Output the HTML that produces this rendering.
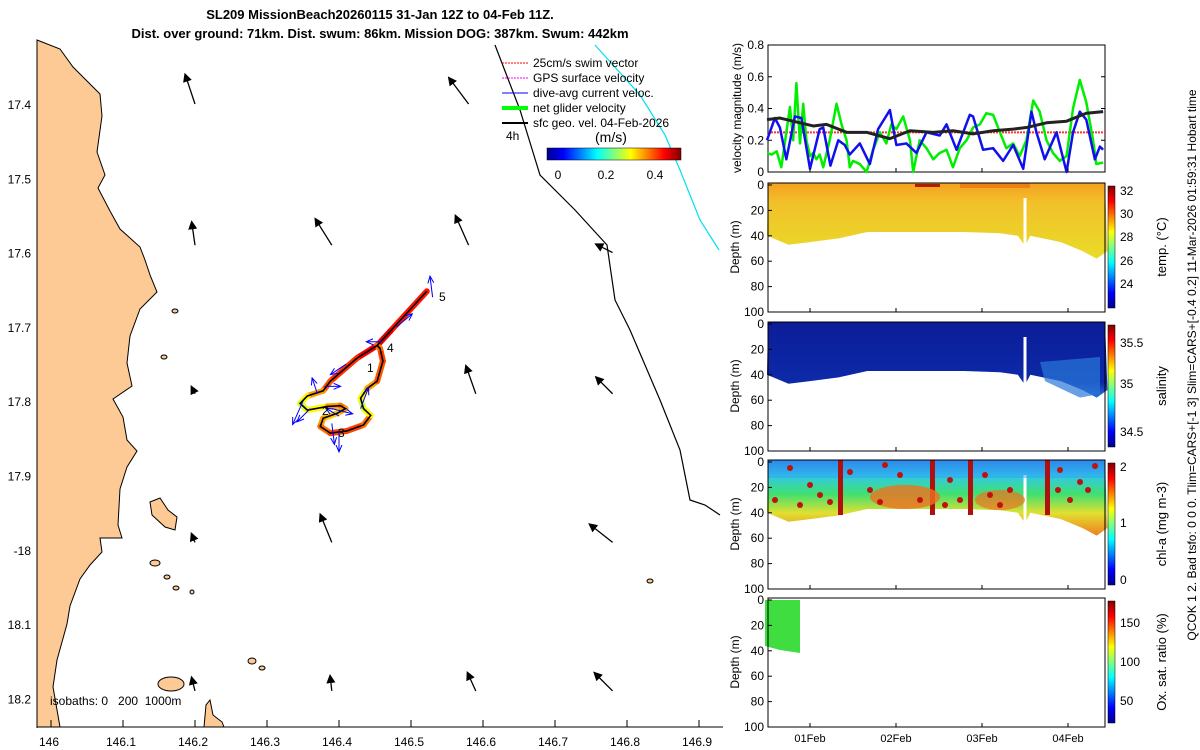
<!DOCTYPE html>
<html><head><meta charset="utf-8"><style>
body{margin:0;background:#fff;}
svg{display:block;font-family:"Liberation Sans",sans-serif;}
</style></head><body>
<svg id="c" width="1200" height="750" viewBox="0 0 1200 750" xmlns="http://www.w3.org/2000/svg">
<defs>
<linearGradient id="jetH" x1="0" x2="1" y1="0" y2="0">
<stop offset="0" stop-color="#00008f"/><stop offset="0.125" stop-color="#0000ff"/><stop offset="0.375" stop-color="#00ffff"/><stop offset="0.625" stop-color="#ffff00"/><stop offset="0.875" stop-color="#ff0000"/><stop offset="1" stop-color="#800000"/></linearGradient>
<linearGradient id="jetV" x1="0" x2="0" y1="1" y2="0">
<stop offset="0" stop-color="#00008f"/><stop offset="0.125" stop-color="#0000ff"/><stop offset="0.375" stop-color="#00ffff"/><stop offset="0.625" stop-color="#ffff00"/><stop offset="0.875" stop-color="#ff0000"/><stop offset="1" stop-color="#800000"/></linearGradient>
<linearGradient id="tempG" x1="0" x2="0" y1="0" y2="1"><stop offset="0" stop-color="#f5a020"/><stop offset="0.25" stop-color="#f2c02a"/><stop offset="1" stop-color="#e8dc28"/></linearGradient>
<linearGradient id="salG" x1="0" x2="0" y1="0" y2="1"><stop offset="0" stop-color="#0c1c98"/><stop offset="0.8" stop-color="#0c2aa8"/><stop offset="1" stop-color="#2a70d8"/></linearGradient>
<linearGradient id="chlG" x1="0" x2="0" y1="0" y2="1"><stop offset="0" stop-color="#2a70e8"/><stop offset="0.2" stop-color="#30c8e8"/><stop offset="0.45" stop-color="#40e070"/><stop offset="0.7" stop-color="#e0e030"/><stop offset="1" stop-color="#f08020"/></linearGradient>
<marker id="ah" markerWidth="7" markerHeight="7" refX="5" refY="3.5" orient="auto"><path d="M0,0 L7,3.5 L0,7 Z" fill="#000"/></marker>
<marker id="ahb" markerWidth="8" markerHeight="8" refX="6" refY="4" orient="auto"><path d="M0,1 L7,4 L0,7" fill="none" stroke="#00f"/></marker>
</defs>

<text x="380" y="19" text-anchor="middle" font-size="13" font-weight="bold">SL209 MissionBeach20260115 31-Jan 12Z to 04-Feb 11Z.</text>
<text x="380" y="38" text-anchor="middle" font-size="13" font-weight="bold">Dist. over ground: 71km. Dist. swum: 86km. Mission DOG: 387km. Swum: 442km</text>

<g id="map">
<path fill="#fdc994" stroke="#000" stroke-width="1" d="M37,40 L60,49 L73,67 L100,94 L102,116 L97,152 L105,175 L98,188 L110,211 L120,229 L140,247 L145,260 L150,275 L157,292 L140,309 L130,336 L127,363 L132,386 L113,399 L123,417 L127,440 L137,451 L127,467 L120,489 L118,525 L122,538 L100,538 L102,552 L90,565 L80,579 L70,606 L67,624 L57,660 L53,687 L60,727 L37,727 Z"/>
<g fill="#fdc994" stroke="#000" stroke-width="1">
<path d="M150,502 L160,498 L168,510 L177,517 L175,530 L165,527 L152,515 Z"/>
<ellipse cx="171" cy="684" rx="13" ry="7"/><ellipse cx="155" cy="563" rx="5" ry="3"/><ellipse cx="167" cy="577" rx="3" ry="2"/><ellipse cx="176" cy="588" rx="3" ry="2"/><ellipse cx="192" cy="592" rx="2" ry="2"/><ellipse cx="175" cy="311" rx="3" ry="2"/><ellipse cx="164" cy="357" rx="3" ry="2"/><ellipse cx="252" cy="661" rx="4" ry="3"/><ellipse cx="262" cy="668" rx="3" ry="2"/><ellipse cx="650" cy="581" rx="3" ry="2"/>
<path d="M204,727 L206,705 L210,700 L213,715 L222,722 L224,727 Z"/>
</g>
<path d="M495,45 L520,110 L540,175 L575,210 L607,245 L615,300 L630,330 L660,400 L680,450 L690,500 L705,505 L720,515" fill="none" stroke="#000" stroke-width="1.2"/>
<path d="M595,45 L640,95 L665,135 L680,170 L700,220 L719,250" fill="none" stroke="#00e0f0" stroke-width="1.2"/>
<g id="sfcArrows"></g>
<g id="track"></g>
<line x1="37" y1="43" x2="37" y2="728" stroke="#000"/>
<line x1="37" y1="727" x2="723" y2="727" stroke="#000"/>
<g id="mapTicks" font-size="12"></g>
<text x="50" y="705" font-size="12">isobaths: 0 &#160; 200 &#160;1000m</text>
<g font-size="12">
<line x1="528" y1="63" x2="502" y2="63" stroke="#f00" stroke-dasharray="2,1"/><text x="533" y="67">25cm/s swim vector</text>
<line x1="528" y1="78" x2="502" y2="78" stroke="#f0f" stroke-dasharray="2,1"/><text x="533" y="82">GPS surface velocity</text>
<line x1="528" y1="93" x2="502" y2="93" stroke="#00f"/><text x="533" y="97">dive-avg current veloc.</text>
<line x1="528" y1="108" x2="502" y2="108" stroke="#0f0" stroke-width="4"/><text x="533" y="112">net glider velocity</text>
<line x1="528" y1="123" x2="502" y2="123" stroke="#000" stroke-width="2"/><text x="533" y="127">sfc geo. vel. 04-Feb-2026</text>
<text x="506" y="140" font-size="12">4h</text>
<text x="595" y="142" font-size="14">(m/s)</text>
<rect x="547" y="148" width="134" height="12" fill="url(#jetH)" stroke="#000" stroke-width="0.5"/>
<text x="558" y="179" text-anchor="middle">0</text><text x="606" y="179" text-anchor="middle">0.2</text><text x="655" y="179" text-anchor="middle">0.4</text>
</g>
</g>

<g id="right"></g>
<text transform="translate(1196,365) rotate(-90)" text-anchor="middle" font-size="12">QCOK 1  2. Bad tsfo: 0  0  0. Tlim=CARS+[-1 3] Slim=CARS+[-0.4 0.2] 11-Mar-2026 01:59:31 Hobart time</text>
</svg>
<script>
// ---------- data ----------
const greenHours=[0,1.3,2.7,4.0,5.4,6.4,7.3,8.2,9.2,10.1,11.0,12.0,12.9,13.8,14.7,15.7,17.5,19.4,20.8,22.2,23.1,24.0,25.9,27.8,29.6,31.5,33.3,34.7,36.1,38.0,39.9,40.8,42.6,44.5,46.4,48.2,50.1,51.9,53.8,55.7,57.5,59.4,61.2,63.1,65.0,66.8,68.7,70.5,72.4,74.3,76.1,78.0,79.8,81.7,83.6,85.4,87.3,89.1,91.0,91.9,93.8];
const greenSpeed=[.12,.11,.13,.03,.25,.41,.2,.56,.18,.43,.2,.1,.12,.08,.11,.03,.2,.43,.3,.2,.03,.07,.05,0,.14,.25,.18,.3,.27,.35,.2,0,.2,.15,.08,.12,.14,.03,.15,.2,.28,.3,.37,.36,.25,.15,.18,.1,.2,.45,.38,.2,.12,.07,.1,.4,.58,.44,.2,.05,.06];
const blueHours=[0,2.2,3.6,5.4,7.8,9.6,12.0,14.7,15.7,17.7,19.9,21.7,23.1,25.9,28.7,31.0,34.3,36.1,38.9,41.7,44.5,48.2,50.1,52.9,56.6,57.5,60.3,63.1,65.9,68.7,71.5,73.8,75.2,77.5,80.8,83.6,85.4,87.3,89.1,91.5,92.9,93.8];
const blueSpeed=[.2,.34,.28,.08,.35,.34,.02,.27,.28,.04,.2,.17,.11,.18,.05,.27,.39,.17,.18,.12,.25,.23,.3,.14,.36,.35,.14,.15,.07,.17,.02,.38,.25,.08,.25,0,.25,.38,.33,.08,.16,.14];
const blackHours=[0,3.6,9.2,12.9,16.6,22.2,27.8,34.3,39.9,46.4,51.9,57.5,63.1,68.7,72.4,78.0,83.6,89.1,93.8];
const blackSpeed=[.33,.34,.31,.29,.3,.25,.25,.21,.26,.25,.26,.24,.26,.27,.28,.31,.32,.37,.38];
const swimSpeed=0.25;
const velTicks=[0,0.2,0.4,0.6,0.8];
const dayTicks=["01Feb","02Feb","03Feb","04Feb"];
const dayTickHours=[12,36,60,84];
const depthTicks=[0,20,40,60,80,100];
const bottomHours=[0,6,12,20,28,38,55,65,70,72,73.5,82,88,92,95];
const bottomDepth=[40,47,45,42,37,37,37,38,40,48,40,45,52,58,52];
const mapLonTicks=["146","146.1","146.2","146.3","146.4","146.5","146.6","146.7","146.8","146.9"];
const mapLonVals=[146,146.1,146.2,146.3,146.4,146.5,146.6,146.7,146.8,146.9];
const mapLatTicks=["17.4","17.5","17.6","17.7","17.8","17.9","-18","18.1","18.2"];
const mapLatVals=[17.4,17.5,17.6,17.7,17.8,17.9,18.0,18.1,18.2];
const arrLon=[146.2,146.58,146.2,146.39,146.58,146.78,146.2,146.59,146.78,146.2,146.39,146.78,146.2,146.39,146.59,146.78];
const arrLat=[17.40,17.40,17.59,17.59,17.59,17.60,17.79,17.79,17.79,17.99,17.99,17.99,18.19,18.19,18.19,18.19];
const arrU=[-0.06,-0.12,-0.02,-0.1,-0.08,-0.1,-0.02,-0.06,-0.1,-0.02,-0.07,-0.14,-0.02,-0.01,-0.05,-0.11];
const arrV=[0.18,0.16,0.14,0.16,0.18,0.05,0.04,0.17,0.1,0.05,0.17,0.11,0.08,0.09,0.11,0.11];
const trackLon=[146.522,146.471,146.453,146.425,146.388,146.378,146.356,146.346,146.356,146.384,146.402,146.409,146.398,146.378,146.374,146.388,146.411,146.434,146.444,146.434,146.430,146.439,146.453,146.461,146.457,146.453];
const trackLat=[17.652,17.706,17.725,17.742,17.773,17.786,17.793,17.803,17.812,17.807,17.806,17.810,17.816,17.823,17.834,17.843,17.840,17.832,17.819,17.810,17.796,17.783,17.773,17.746,17.729,17.725];
const trackSpeed=[.45,.5,.48,.42,.38,.3,.2,.15,.2,.3,.35,.3,.25,.3,.35,.4,.4,.35,.2,.15,.2,.3,.38,.4,.35,.3];
const blueArrLon=[146.53,146.48,146.46,146.41,146.38,146.37,146.35,146.36,146.39,146.4,146.43,146.39,146.4];
const blueArrLat=[17.66,17.70,17.72,17.75,17.78,17.79,17.80,17.81,17.81,17.82,17.81,17.83,17.84];
const blueArrU=[-0.01,0.06,-0.06,-0.06,0.06,-0.02,-0.04,-0.05,0.08,-0.05,0.03,0.01,0.0];
const blueArrV=[0.08,0.05,0.0,-0.04,0.0,0.06,-0.09,-0.05,-0.02,0.03,0.08,-0.08,-0.08];

// ---------- helpers ----------
const NS="http://www.w3.org/2000/svg";
function mk(tag,attrs,parent){const e=document.createElementNS(NS,tag);for(const k in attrs)e.setAttribute(k,attrs[k]);parent.appendChild(e);return e;}
const lonX=l=>51+(l-146)*720;
const latY=l=>104+(l-17.4)*743;
function jet(v){v=Math.max(0,Math.min(1,v));const r=Math.min(4*v-1.5,-4*v+4.5),g=Math.min(4*v-0.5,-4*v+3.5),b=Math.min(4*v+0.5,-4*v+2.5);const c=x=>Math.round(255*Math.max(0,Math.min(1,x)));return `rgb(${c(r)},${c(g)},${c(b)})`;}

// ---------- map ticks ----------
const mt=document.getElementById('mapTicks');
mapLonVals.forEach((v,i)=>{const x=lonX(v);
 const t=mk('line',{x1:x,y1:727,x2:x,y2:720,stroke:'#000'},mt);
 
 
 const tx=mk('text',{x:x-2,y:746,'text-anchor':'middle'},mt);tx.textContent=mapLonTicks[i];
 
 });
mapLatVals.forEach((v,i)=>{const y=latY(v);
 const tx=mk('text',{x:31,y:y+5,'text-anchor':'end'},mt);tx.textContent=mapLatTicks[i];
 
 });

const sa=document.getElementById('sfcArrows');
for(let i=0;i<arrLon.length;i++){const x=lonX(arrLon[i]),y=latY(arrLat[i]);const s=160;
 const a=mk('line',{x1:x,y1:y,x2:x+arrU[i]*s,y2:y-arrV[i]*s,stroke:'#000','stroke-width':1.3,'marker-end':'url(#ah)'},sa);
 
 }

const tr=document.getElementById('track');
for(let i=0;i<trackLon.length-1;i++){
 const s=mk('line',{x1:lonX(trackLon[i]),y1:latY(trackLat[i]),x2:lonX(trackLon[i+1]),y2:latY(trackLat[i+1]),stroke:jet(0.45+trackSpeed[i]*0.9),'stroke-width':6,'stroke-linecap':'round'},tr);
 
 }
const tp=mk('polyline',{points:trackLon.map((l,i)=>lonX(l)+','+latY(trackLat[i])).join(' '),fill:'none',stroke:'#000','stroke-width':1.6},tr);


for(let i=0;i<blueArrLon.length;i++){const x=lonX(blueArrLon[i]),y=latY(blueArrLat[i]);
 const a=mk('line',{x1:x,y1:y,x2:x+blueArrU[i]*250,y2:y-blueArrV[i]*250,stroke:'#00f','stroke-width':1,'marker-end':'url(#ahb)'},tr);
 
 }
[["1",367,372],["2",322,415],["3",338,437],["4",387,352],["5",439,301]].forEach(d=>{const t=mk('text',{x:d[1],y:d[2],'font-size':12},tr);t.textContent=d[0];
 
 });

// ---------- right panels ----------
const R=document.getElementById('right');
const X0=768,X1=1105;
const hx=h=>767+h*86/24;
const vT=45,vB=172;const vy=v=>vB-v/0.8*(vB-vT);
const vp=mk('g',{},R);
mk('rect',{x:X0,y:vT,width:X1-X0,height:vB-vT,fill:'#fff',stroke:'#000'},vp);
velTicks.forEach(v=>{const t=mk('text',{x:764,y:vy(v)+4,'text-anchor':'end','font-size':12},vp);t.textContent=v===0?'0':v.toFixed(1);
 
 
 mk('line',{x1:X0,y1:vy(v),x2:X0+4,y2:vy(v),stroke:'#000'},vp);mk('line',{x1:X1,y1:vy(v),x2:X1-4,y2:vy(v),stroke:'#000'},vp);});
const sw=mk('line',{x1:X0,y1:vy(swimSpeed),x2:X1,y2:vy(swimSpeed),stroke:'#f33','stroke-width':2,'stroke-dasharray':'2,1'},vp);

function series(hs,vs,col,w,name){const p=mk('polyline',{points:hs.map((h,i)=>hx(h)+','+vy(vs[i])).join(' '),fill:'none',stroke:col,'stroke-width':w,'stroke-linejoin':'round'},vp);
 }
series(greenHours,greenSpeed,'#00ee00',2.5,'net-glider-speed-line');
series(blueHours,blueSpeed,'#1010ee',2.5,'dive-current-speed-line');
series(blackHours,blackSpeed,'#222',3,'geostrophic-speed-line');
const vl=mk('text',{transform:'translate(741,108) rotate(-90)','text-anchor':'middle','font-size':12},vp);vl.textContent='velocity magnitude (m/s)';


const panels=[
 {top:183,fill:'url(#tempG)',name:'temperature',label:'temp. (°C)',cb:[['32',191],['30',214],['28',237],['26',261],['24',284]]},
 {top:322,fill:'url(#salG)',name:'salinity',label:'salinity',cb:[['35.5',343],['35',384],['34.5',432]]},
 {top:460,fill:'url(#chlG)',name:'chlorophyll',label:'chl-a (mg m-3)',cb:[['2',467],['1',523],['0',580]]},
 {top:598,fill:'none',name:'oxygen',label:'Ox. sat. ratio (%)',cb:[['150',623],['100',662],['50',701]]}];
panels.forEach((P,pi)=>{
 const g=mk('g',{},R);
 const T=P.top,B=T+129,dy=d=>T+2+d*1.27;
 mk('rect',{x:X0,y:T,width:X1-X0,height:B-T,fill:'#fff',stroke:'#000'},g);
 if(pi<3){
  let pts=[X0+','+T];bottomHours.forEach((h,i)=>pts.push(hx(h)+','+dy(bottomDepth[i])));pts.push(X1+','+T);
  const sh=mk('polygon',{points:pts.join(' '),fill:P.fill},g);
  mk('line',{x1:1025,y1:T+15,x2:1025,y2:dy(48),stroke:'#fff','stroke-width':3},g);
 }
 if(pi===0){mk('rect',{x:960,y:T,width:70,height:5,fill:'#e87010',opacity:0.7},g);mk('rect',{x:915,y:T+1,width:25,height:3,fill:'#b02000'},g);}
 if(pi===1){mk('polygon',{points:'1040,'+(T+40)+' 1100,'+(T+35)+' 1100,'+dy(55)+' 1080,'+dy(58)+' 1045,'+dy(45),fill:'#2a78d8',opacity:0.7},g);}
 if(pi===2){
  mk('rect',{x:X0,y:T,width:X1-X0,height:18,fill:'#30a0f0',opacity:0.5},g);
  [838,930,968,1045].forEach(x=>mk('rect',{x:x,y:T,width:5,height:55,fill:'#b01010'},g));
  mk('ellipse',{cx:905,cy:T+37,rx:35,ry:12,fill:'#f07020',opacity:0.8},g);
  mk('ellipse',{cx:1000,cy:T+40,rx:25,ry:10,fill:'#f07020',opacity:0.7},g);
  [[790,8],[810,25],[850,12],[870,30],[885,5],[950,20],[985,15],[1010,30],[1060,10],[1080,22],[1095,6],[775,40],[800,45],[1000,45],[960,40],[820,35],[830,42],[880,42],[900,15],[920,40],[945,45],[990,35],[1070,40],[1088,30],[1058,30]].forEach(p=>mk('circle',{cx:p[0],cy:T+p[1],r:3,fill:'#c01010'},g));
 }
 if(pi===3){const o=mk('polygon',{points:`765,${T+2} 800,${T+2} 800,${T+55} 780,${T+52} 765,${T+48}`,fill:'#40dd40'},g);
  }
 mk('rect',{x:X0,y:T,width:X1-X0,height:B-T,fill:'none',stroke:'#000'},g);
 depthTicks.forEach(d=>{const t=mk('text',{x:764,y:dy(d)+4,'text-anchor':'end','font-size':12},g);t.textContent=d;
  
  mk('line',{x1:X0,y1:dy(d),x2:X0+4,y2:dy(d),stroke:'#000'},g);});
 const dl=mk('text',{transform:`translate(739,${T+64}) rotate(-90)`,'text-anchor':'middle','font-size':12},g);dl.textContent='Depth (m)';
 
 const cb=mk('rect',{x:1108,y:T+3,width:7,height:122,fill:'url(#jetV)',stroke:'#000','stroke-width':0.5},g);
 
 P.cb.forEach(c=>{const t=mk('text',{x:1120,y:c[1]+4,'font-size':12},g);t.textContent=c[0];
  });
 const cl=mk('text',{transform:`translate(1166,${T+64}) rotate(-90)`,'text-anchor':'middle','font-size':13},g);cl.textContent=P.label;
 
});
dayTicks.forEach((d,i)=>{const x=hx(dayTickHours[i]);
 const t=mk('text',{x:x,y:742,'text-anchor':'middle','font-size':11},R);t.textContent=d;
 
 [[45,172],[183,312],[322,451],[460,589],[598,727]].forEach(r=>{mk('line',{x1:x,y1:r[1],x2:x,y2:r[1]-4,stroke:'#000'},R);});});
</script>
</body></html>
